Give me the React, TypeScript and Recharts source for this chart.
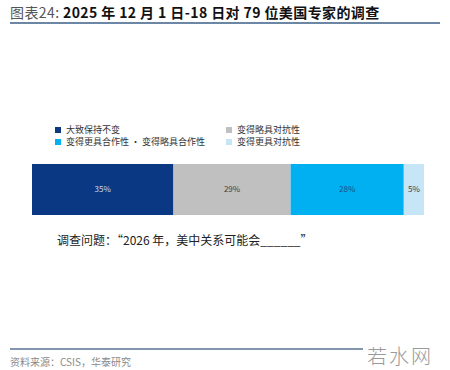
import React from "react";
import { BarChart, Bar, XAxis, YAxis, LabelList } from "recharts";

const categories = ["2026"];
const stable = [35];
const slightlyConfrontational = [29];
const cooperative = [28];
const moreConfrontational = [5];

const seriesNames = [
  "大致保持不变",
  "变得略具对抗性",
  "变得更具合作性 • 变得略具合作性",
  "变得更具对抗性"
];
const seriesColors = ["#0a3882", "#c0c0c0", "#00b0f0", "#c6e6f8"];
const labelColors = ["#c8dcf0", "#404040", "#1d4f86", "#404040"];

const data = categories.map((c, i) => ({
  name: c,
  s0: stable[i],
  s1: slightlyConfrontational[i],
  s2: cooperative[i],
  s3: moreConfrontational[i]
}));

const cjk = '"Noto Sans CJK SC", "Noto Sans", sans-serif';

function LegendGrid() {
  return (
    <div
      style={{
        position: "absolute",
        left: 55,
        top: 124,
        display: "grid",
        gridTemplateColumns: "171px 171px",
        rowGap: 1,
        fontFamily: cjk,
        fontSize: 9,
        color: "#333",
        lineHeight: "11px"
      }}
    >
      {seriesNames.map((n, i) => (
        <div key={n} style={{ display: "flex", alignItems: "center" }}>
          <span
            style={{
              display: "inline-block",
              width: 6,
              height: 6,
              background: seriesColors[i],
              marginRight: 5
            }}
          />
          <span>{n}</span>
        </div>
      ))}
    </div>
  );
}

export default function App() {
  return (
    <div
      style={{
        position: "absolute",
        left: 0,
        top: 0,
        width: 450,
        height: 370,
        background: "#fff",
        fontFamily: cjk,
        overflow: "hidden"
      }}
    >
      <div
        style={{
          position: "absolute",
          left: 10,
          top: 4,
          fontSize: 14,
          lineHeight: "17px",
          letterSpacing: 0.4,
          whiteSpace: "nowrap"
        }}
      >
        <span style={{ color: "#555" }}>图表24:  </span>
        <span style={{ color: "#111", fontWeight: 700 }}>
          2025 年 12 月 1 日-18 日对 79 位美国专家的调查
        </span>
      </div>
      <div
        style={{
          position: "absolute",
          left: 10,
          top: 22,
          width: 430,
          height: 1.5,
          background: "#6c86a6"
        }}
      />

      <LegendGrid />

      <BarChart
        width={450}
        height={370}
        data={data}
        layout="vertical"
        barCategoryGap={0}
        margin={{ top: 164, right: 26, bottom: 155, left: 32 }}
        style={{ position: "absolute", left: 0, top: 0 }}
      >
        <XAxis type="number" domain={[0, 97]} hide />
        <YAxis type="category" dataKey="name" hide />
        {["s0", "s1", "s2", "s3"].map((k, i) => (
          <Bar
            key={k}
            dataKey={k}
            name={seriesNames[i]}
            stackId="a"
            fill={seriesColors[i]}
            isAnimationActive={false}
          >
            <LabelList
              dataKey={k}
              position="center"
              formatter={(v: any) => `${v}%`}
              style={{ fontSize: 8, fill: labelColors[i], fontFamily: cjk }}
            />
          </Bar>
        ))}
      </BarChart>

      <div
        style={{
          position: "absolute",
          left: 57,
          top: 231,
          fontSize: 12,
          color: "#222",
          whiteSpace: "nowrap"
        }}
      >
        调查问题：“2026 年，美中关系可能会______”
      </div>

      <div
        style={{
          position: "absolute",
          left: 10,
          top: 348,
          width: 353,
          height: 1.5,
          background: "#8496ad"
        }}
      />
      <div
        style={{
          position: "absolute",
          left: 10,
          top: 355,
          fontSize: 10,
          lineHeight: "13px",
          color: "#8a8a8a",
          whiteSpace: "nowrap"
        }}
      >
        资料来源：CSIS，华泰研究
      </div>
      <div
        style={{
          position: "absolute",
          left: 367,
          top: 345,
          fontSize: 20,
          lineHeight: "22px",
          fontWeight: 300,
          letterSpacing: 2,
          color: "#9a9a9a",
          whiteSpace: "nowrap"
        }}
      >
        若水网
      </div>
    </div>
  );
}
